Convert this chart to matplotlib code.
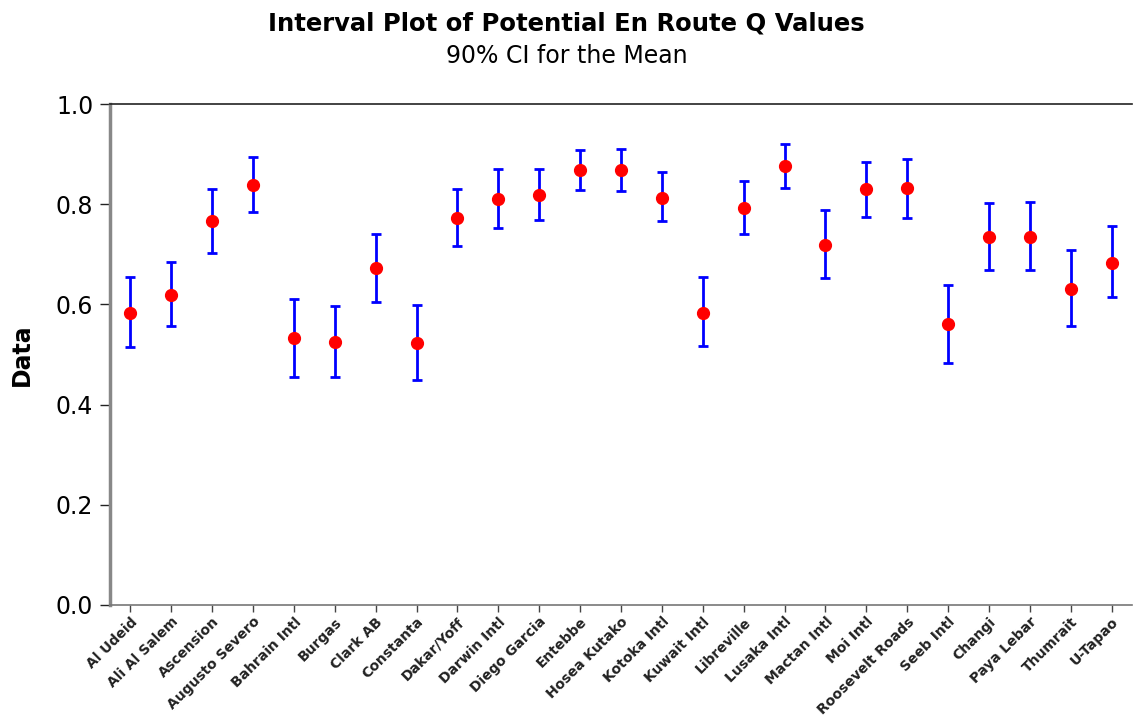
# Interval plot of potential en route Q values (90% CI for the mean)
import numpy as np
import matplotlib
matplotlib.use('Agg')
import matplotlib.pyplot as plt

# Airfields
sites = ['Al Udeid', 'Ali Al Salem', 'Ascension', 'Augusto Severo', 'Bahrain Intl',
         'Burgas', 'Clark AB', 'Constanta', 'Dakar/Yoff', 'Darwin Intl',
         'Diego Garcia', 'Entebbe', 'Hosea Kutako', 'Kotoka Intl', 'Kuwait Intl',
         'Libreville', 'Lusaka Intl', 'Mactan Intl', 'Moi Intl', 'Roosevelt Roads',
         'Seeb Intl', 'Changi', 'Paya Lebar', 'Thumrait', 'U-Tapao']

# Means and CI limits
means = [0.582, 0.619, 0.767, 0.838, 0.532, 0.524, 0.672, 0.522, 0.772, 0.810,
         0.818, 0.868, 0.868, 0.813, 0.583, 0.792, 0.876, 0.719, 0.830, 0.832,
         0.560, 0.735, 0.735, 0.631, 0.683]
upper = [0.654, 0.685, 0.830, 0.895, 0.611, 0.597, 0.741, 0.599, 0.830, 0.870,
         0.870, 0.909, 0.911, 0.864, 0.655, 0.847, 0.921, 0.788, 0.884, 0.891,
         0.638, 0.802, 0.804, 0.709, 0.756]
lower = [0.515, 0.557, 0.703, 0.784, 0.456, 0.456, 0.605, 0.450, 0.716, 0.753,
         0.769, 0.829, 0.826, 0.766, 0.516, 0.740, 0.832, 0.653, 0.775, 0.773,
         0.483, 0.669, 0.669, 0.557, 0.614]

x = np.arange(len(sites))
m = np.array(means)
err = [m - np.array(lower), np.array(upper) - m]

fig = plt.figure(figsize=(11.33, 7.21), dpi=100)
ax = fig.add_axes([110 / 1133, 1 - 605 / 721, 1022 / 1133, 501 / 721])

ax.errorbar(x, m, yerr=err, fmt='none', ecolor='#0000ff', elinewidth=2,
            capsize=3.5, capthick=2)
ax.plot(x, m, 'o', color='#ff0000', markersize=8.5, zorder=3)

ax.set_xlim(-0.5, len(sites) - 0.5)
ax.set_ylim(0, 1.0)
ax.set_yticks([0.0, 0.2, 0.4, 0.6, 0.8, 1.0])
ax.set_yticklabels(['0.0', '0.2', '0.4', '0.6', '0.8', '1.0'], fontsize=17)
ax.set_xticks(x)
ax.set_xticklabels(sites, rotation=45, ha='right', rotation_mode='anchor',
                   fontsize=10, fontweight='bold', color='#222222')

ax.spines['right'].set_visible(False)
ax.spines['top'].set_color('#222222')
ax.spines['top'].set_linewidth(1.2)
ax.spines['left'].set_color('#888888')
ax.spines['left'].set_linewidth(2.5)
ax.spines['bottom'].set_color('#777777')
ax.spines['bottom'].set_linewidth(1.2)
ax.tick_params(axis='y', length=7, width=1, color='#222222', pad=5)
ax.tick_params(axis='x', length=5, width=1, color='#444444', pad=2)

ax.set_ylabel('Data', fontsize=17, fontweight='bold')
ax.yaxis.set_label_coords(-76 / 1022, 0.5)

fig.text(0.5, 1 - 23 / 721, 'Interval Plot of Potential En Route Q Values',
         ha='center', va='center', fontsize=17.5, fontweight='bold')
fig.text(0.5, 1 - 56 / 721, '90% CI for the Mean',
         ha='center', va='center', fontsize=17)

fig.savefig('out.png', dpi=100)
